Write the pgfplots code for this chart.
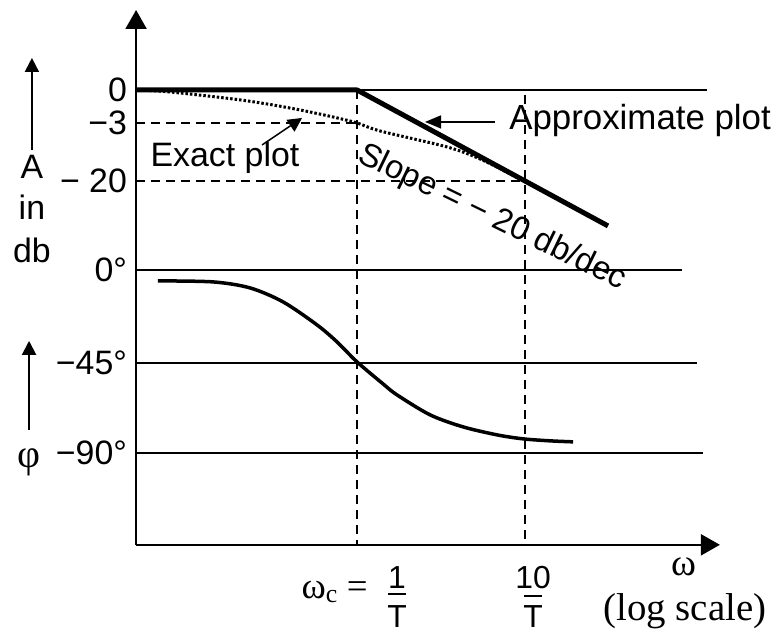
\documentclass[border=0pt]{standalone}
\usepackage{pgfplots}
\pgfplotsset{compat=1.18}
\usepackage{fontspec}
\setmainfont{Liberation Sans}
\newfontfamily\serif{Liberation Serif}
\usetikzlibrary{arrows.meta}
\newcommand{\fs}[1]{\fontsize{#1}{#1}\selectfont}

\begin{document}
\begin{tikzpicture}
\begin{axis}[
  scale only axis, width=584bp, height=535bp,
  xmin=-1.315, xmax=2.16, ymin=0, ymax=535,
  axis lines=left,
  axis line style={line width=2.2bp, -{Triangle[length=19bp,width=21bp]}},
  xtick=\empty,
  ytick={455,422,364,275,182,92},
  yticklabels={0,−3,− 20,0°,−45°,−90°},
  major tick length=0pt,
  yticklabel style={font=\fs{34}, anchor=east, inner sep=0pt, xshift=-9bp},
  clip=false,
]
% bounding box of the whole picture
\path (axis cs:-2.125,-93) rectangle (axis cs:2.5,545);

% reference horizontal lines
\addplot[line width=2.2bp] coordinates {(0,455) (2.083,455)};
\addplot[line width=2.2bp] coordinates {(-1.315,275) (1.935,275)};
\addplot[line width=2.2bp] coordinates {(-1.315,182) (2.024,182)};
\addplot[line width=2.2bp] coordinates {(-1.315,92) (2.06,92)};

% dashed guide lines
\addplot[line width=2.2bp, dash pattern=on 9bp off 6bp] coordinates {(-1.315,422) (0,422)};
\addplot[line width=2.2bp, dash pattern=on 9bp off 6bp] coordinates {(-1.315,364) (1,364)};
\addplot[line width=2.2bp, dash pattern=on 9bp off 6bp] coordinates {(0,455) (0,0)};
\addplot[line width=2.2bp, dash pattern=on 9bp off 6bp] coordinates {(1,450) (1,0)};

% approximate (asymptotic) magnitude plot
\addplot[line width=5bp, line join=round] coordinates {(-1.315,455) (0,455) (1.494,319)};

% exact magnitude plot
\addplot[line width=3bp, dash pattern=on 2.5bp off 2bp, smooth] coordinates {
(-1.315,455) (-1.113,453) (-0.738,446) (-0.536,441) (-0.339,435) (-0.143,428)
(0,422) (0.137,414) (0.536,398) (0.732,386) (0.97,366) (1.0,363)};

% phase plot
\addplot[line width=3.5bp, smooth] coordinates {
(-1.185,264) (-0.857,263) (-0.637,257) (-0.44,243) (-0.238,220) (-0.119,203)
(0,183) (0.155,161) (0.238,150) (0.435,130) (0.631,118) (0.833,110)
(0.988,106) (1.15,104) (1.286,103)};

% axis titles on the left
\draw[line width=2bp, -{Triangle[length=14bp,width=14bp]}] (axis cs:-1.935,395) -- (axis cs:-1.935,487);
\node[font=\fs{34}] at (axis cs:-1.935,378) {A};
\node[font=\fs{34}] at (axis cs:-1.935,338) {in};
\node[font=\fs{34}] at (axis cs:-1.935,295) {db};
\draw[line width=2bp, -{Triangle[length=14bp,width=14bp]}] (axis cs:-1.952,115) -- (axis cs:-1.952,204);
\node[font=\fs{40}\serif] at (axis cs:-1.952,83) {φ};

% annotations
\node[font=\fs{34}] at (axis cs:-0.786,387) {Exact plot};
\draw[line width=1.5bp, -{Triangle[length=14bp,width=14bp]}] (axis cs:-0.565,400) -- (axis cs:-0.327,427);
\node[font=\fs{35}] at (axis cs:1.685,424) {Approximate plot};
\draw[line width=1.5bp, -{Triangle[length=16bp,width=13bp]}] (axis cs:0.821,423) -- (axis cs:0.405,423);
\node[font=\fs{33}, rotate=-26] at (axis cs:0.804,327) {Slope = − 20 db/dec};

% frequency labels
\node[font=\fs{37}\serif, anchor=east] at (axis cs:0.085,-47) {ω\textsubscript{c} =};
\node[font=\fs{32}] at (axis cs:0.238,-33) {1};
\draw[line width=1.5bp] (axis cs:0.185,-49) -- (axis cs:0.291,-49);
\node[font=\fs{32}] at (axis cs:0.238,-72) {T};
\node[font=\fs{32}] at (axis cs:1.048,-33) {10};
\draw[line width=1.5bp] (axis cs:0.995,-51) -- (axis cs:1.101,-51);
\node[font=\fs{32}] at (axis cs:1.048,-72) {T};
\node[font=\fs{38}\serif] at (axis cs:1.946,-22) {ω};
\node[font=\fs{39}\serif] at (axis cs:1.952,-66) {(log scale)};
\end{axis}
\end{tikzpicture}
\end{document}
